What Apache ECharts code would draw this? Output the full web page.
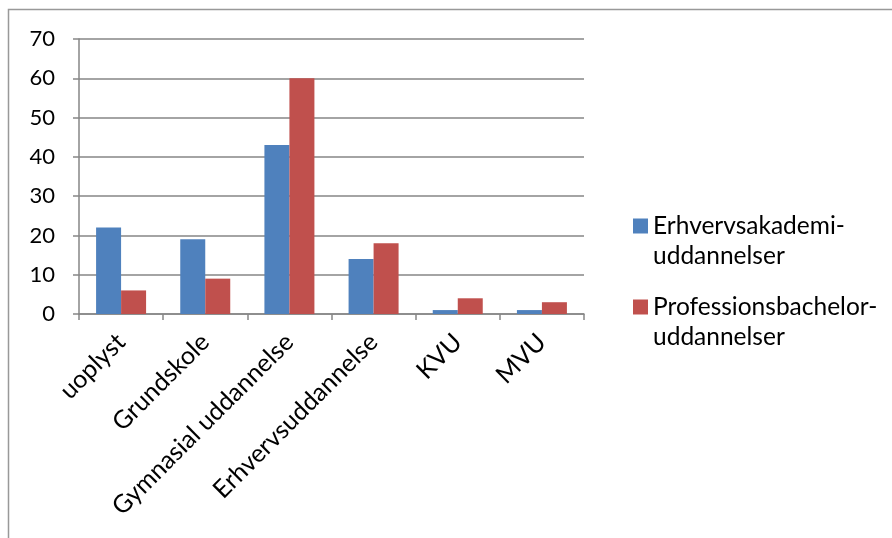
<!DOCTYPE html>
<html><head><meta charset="utf-8">
<script src="https://cdn.jsdelivr.net/npm/echarts@6/dist/echarts.min.js"></script>
<style>html,body{margin:0;padding:0;background:#fff}#c{width:892px;height:538px}</style>
</head><body><div id="c"></div>
<script>
const categories = ['uoplyst', 'Grundskole', 'Gymnasial uddannelse', 'Erhvervsuddannelse', 'KVU', 'MVU'];
const seriesNames = ['Erhvervsakademi-uddannelser', 'Professionsbachelor-uddannelser'];
const erhvervsakademi = [22, 19, 43, 14, 1, 1];
const professionsbachelor = [6, 9, 60, 18, 4, 3];
const yTicks = [0, 10, 20, 30, 40, 50, 60, 70];

const FONT = 'Lato';
const legendText = { fontFamily: FONT, fontSize: 24.5, color: '#000', lineHeight: 30 };
const mkLegend = (name, top) => ({
  orient: 'vertical', left: 628, top: top,
  itemWidth: 15, itemHeight: 15, icon: 'rect',
  formatter: n => '\n' + n.replace('-', '-\n'),
  textStyle: legendText,
  data: [name]
});
const chart = echarts.init(document.getElementById('c'));
chart.setOption({
  animation: false,
  backgroundColor: '#fff',
  grid: { left: 79, top: 39, width: 505, height: 275, containLabel: false },
  legend: [mkLegend(seriesNames[0], 176), mkLegend(seriesNames[1], 257)],
  xAxis: {
    type: 'category', data: categories,
    axisLine: { lineStyle: { color: '#868686', width: 1.5 } },
    axisTick: { show: true, length: 6, lineStyle: { color: '#868686', width: 1.5 } },
    axisLabel: { rotate: 45, interval: 0, margin: 24, fontFamily: FONT, fontSize: 25, color: '#000' }
  },
  yAxis: {
    type: 'value', min: yTicks[0], max: yTicks[yTicks.length - 1], interval: 10,
    axisLine: { show: true, lineStyle: { color: '#868686', width: 1.5 } },
    axisTick: { show: true, length: 6, lineStyle: { color: '#868686', width: 1.5 } },
    splitLine: { lineStyle: { color: '#868686', width: 1.5 } },
    axisLabel: { margin: 24, fontFamily: FONT, fontSize: 22, color: '#000' }
  },
  series: [
    { name: seriesNames[0], type: 'bar', data: erhvervsakademi, barWidth: 25, barGap: '0%', itemStyle: { color: '#4F81BD' } },
    { name: seriesNames[1], type: 'bar', data: professionsbachelor, barWidth: 25, barGap: '0%', itemStyle: { color: '#C0504D' } }
  ],
  graphic: [
    { type: 'rect', shape: { x: 8.5, y: 9.5, width: 900, height: 600 }, style: { fill: 'none', stroke: '#999', lineWidth: 1.5 }, silent: true }
  ]
});
</script></body></html>
